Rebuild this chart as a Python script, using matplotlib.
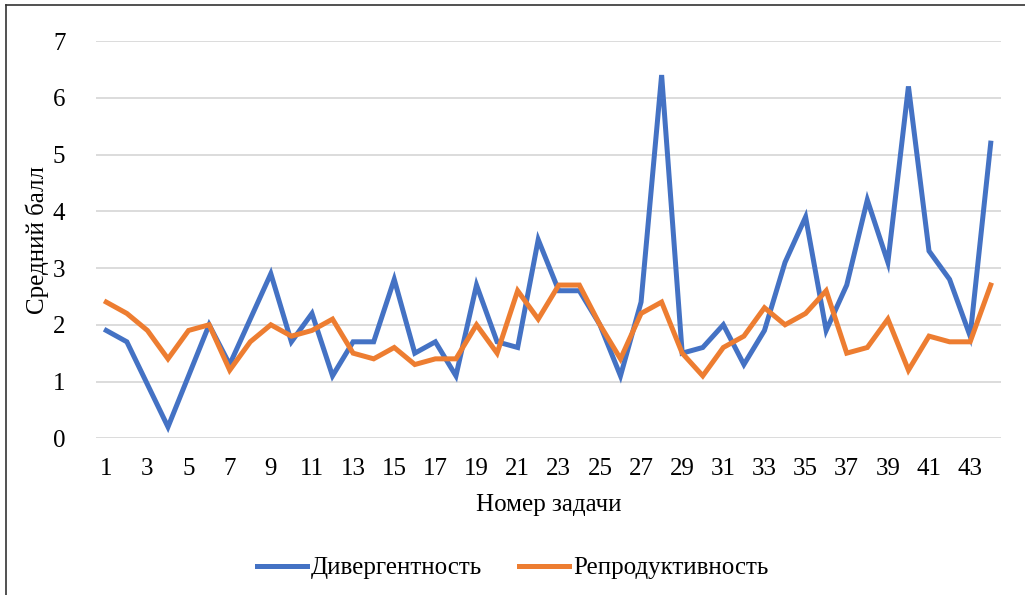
import matplotlib
matplotlib.use("Agg")
import matplotlib.pyplot as plt
from matplotlib.lines import Line2D

tasks = list(range(1, 45))
divergence = [1.9, 1.7, 0.95, 0.2, 1.1, 2.0, 1.3, 2.1, 2.9, 1.7,
              2.2, 1.1, 1.7, 1.7, 2.8, 1.5, 1.7, 1.1, 2.7, 1.7,
              1.6, 3.5, 2.6, 2.6, 2.0, 1.1, 2.4, 6.4, 1.5, 1.6,
              2.0, 1.3, 1.9, 3.1, 3.9, 1.9, 2.7, 4.2, 3.1, 6.2,
              3.3, 2.8, 1.8, 5.2]
reproductive = [2.4, 2.2, 1.9, 1.4, 1.9, 2.0, 1.2, 1.7, 2.0, 1.8,
                1.9, 2.1, 1.5, 1.4, 1.6, 1.3, 1.4, 1.4, 2.0, 1.5,
                2.6, 2.1, 2.7, 2.7, 2.0, 1.4, 2.2, 2.4, 1.5, 1.1,
                1.6, 1.8, 2.3, 2.0, 2.2, 2.6, 1.5, 1.6, 2.1, 1.2,
                1.8, 1.7, 1.7, 2.7]
x_tick_labels = [str(i) for i in range(1, 44, 2)]
y_ticks = [0, 1, 2, 3, 4, 5, 6, 7]
series_names = ["Дивергентность", "Репродуктивность"]

plt.rcParams['font.family'] = ['Liberation Serif', 'DejaVu Serif']

fig = plt.figure(figsize=(10.25, 5.95), dpi=100)
ax = fig.add_axes([96/1025, 1 - 438.3/595, (1001-96)/1025, (438.3-41)/595])

blue = "#4472C4"
orange = "#ED7D31"
ax.plot(tasks, divergence, color=blue, lw=3.6, solid_joinstyle='miter', zorder=3)
ax.plot(tasks, reproductive, color=orange, lw=3.6, solid_joinstyle='miter', zorder=3)

ax.set_xlim(0.5, 44.5)
ax.set_ylim(0, 7)
ax.set_yticks(y_ticks)
ax.set_yticklabels([str(v) for v in y_ticks], fontsize=18)
ax.set_xticks(list(range(1, 44, 2)))
ax.set_xticklabels(x_tick_labels, fontsize=18)
ax.tick_params(axis='both', length=0)
ax.tick_params(axis='x', pad=14)
ax.tick_params(axis='y', pad=22)
ax.grid(axis='y', color='#D9D9D9', lw=1.3)
ax.set_axisbelow(True)
for s in ax.spines.values():
    s.set_visible(False)

ax.set_xlabel("Номер задачи", fontsize=18, labelpad=10)
ax.set_ylabel("Средний балл", fontsize=18, labelpad=3)

handles = [Line2D([], [], color=blue, lw=3.6), Line2D([], [], color=orange, lw=3.6)]
fig.legend(handles, series_names, loc='center', bbox_to_anchor=(0.5, 1 - 568/595),
           ncol=2, frameon=False, fontsize=18, handlelength=2.0, handletextpad=0.15,
           columnspacing=1.5)

# figure border (left and top)
fig.add_artist(Line2D([6/1025, 6/1025], [0, 1 - 5/595], transform=fig.transFigure, color='#333333', lw=1.2))
fig.add_artist(Line2D([6/1025, 1], [1 - 5/595, 1 - 5/595], transform=fig.transFigure, color='#333333', lw=1.2))

fig.savefig("out.png", dpi=100)
